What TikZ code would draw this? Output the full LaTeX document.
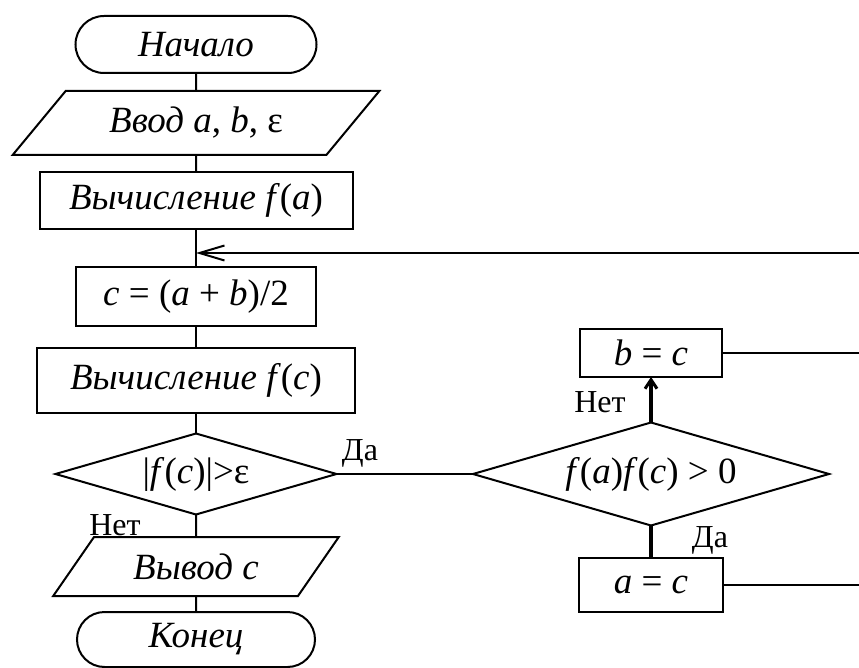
\documentclass[tikz,border=0pt]{standalone}
\usepackage{fontspec}
\setmainfont{Liberation Serif}[ItalicFont={Liberation Serif Italic}]
\usetikzlibrary{shapes.geometric,shapes.misc,arrows.meta}
\begin{document}
\begin{tikzpicture}[x=1pt,y=-1pt,
  every node/.style={inner sep=0pt, outer sep=0pt},
  base/.style={draw, line width=2pt, font=\fontsize{37}{43}\selectfont\itshape},
  term/.style={base, rounded rectangle},
  proc/.style={base, rectangle},
  io/.style={base, trapezium, trapezium stretches=true},
  dec/.style={base, diamond},
  lbl/.style={font=\fontsize{32}{37}\selectfont},
  conn/.style={line width=2pt},
  thickconn/.style={line width=4pt},
]
\useasboundingbox (0,0) rectangle (859,668);

\node[term, minimum width=241pt, minimum height=57pt] (start) at (196,44.5) {Начало};
\node[io, trapezium left angle=41.6, trapezium right angle=138.4,
      minimum width=367pt, minimum height=64pt] (in) at (196,123) {Ввод a\textup{,} b\textup{,} \textup{ε}};
\node[proc, minimum width=313pt, minimum height=57pt] (fa) at (196,200.5) {Вычисление f\textup{(}a\textup{)}};
\node[proc, minimum width=240pt, minimum height=59pt] (mid) at (196,296.5) {c \textup{= (}a \textup{+} b\textup{)/2}};
\node[proc, minimum width=318pt, minimum height=65pt] (fc) at (196,380.5) {Вычисление f\textup{(}c\textup{)}};
\node[dec, aspect=3.47, minimum width=281pt, minimum height=81pt] (d1) at (196,474) {\textup{|}f\textup{(}c\textup{)|>ε}};
\node[io, trapezium left angle=46, trapezium right angle=134,
      minimum width=286pt, minimum height=59pt] (out) at (196,566.5) {Вывод c};
\node[term, minimum width=238pt, minimum height=55pt] (end) at (196,639.5) {Конец};

\node[dec, aspect=3.46, minimum width=356pt, minimum height=103pt] (d2) at (651,474) {f\textup{(}a\textup{)}f\textup{(}c\textup{) > 0}};
\node[proc, minimum width=142pt, minimum height=48pt] (bc) at (651,353) {b \textup{=} c};
\node[proc, minimum width=144pt, minimum height=54pt] (ac) at (651,585) {a \textup{=} c};

\node[lbl] (l1) at (360,453) {Да};
\node[lbl] (l2) at (115,525) {Нет};
\node[lbl] (l3) at (600,402) {Нет};
\node[lbl] (l4) at (710,540) {Да};

\coordinate (ret) at (859,253);
\coordinate (rb) at (859,353);
\coordinate (ra) at (859,585);

\draw[conn] (start.south) -- (in.north);
\draw[conn] (in.south) -- (fa.north);
\draw[conn] (fa.south) -- (mid.north);
\draw[conn] (mid.south) -- (fc.north);
\draw[conn] (fc.south) -- (d1.north);
\draw[conn] (d1.south) -- (out.north);
\draw[conn] (out.south) -- (end.north);
\draw[conn, -{Straight Barb[length=25pt,width=15pt]}] (ret) -- (ret -| fa.south);
\draw[conn] (d1.east) -- (d2.west);
\draw[thickconn, -{Straight Barb[length=9pt,width=12pt,line width=3pt]}] (d2.north) -- (bc.south);
\draw[thickconn] (d2.south) -- (ac.north);
\draw[conn] (bc.east) -- (rb);
\draw[conn] (ac.east) -- (ra);
\end{tikzpicture}
\end{document}
